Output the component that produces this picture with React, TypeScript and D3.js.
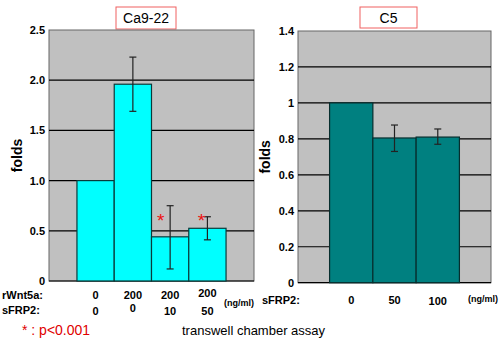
import React from 'react';
import * as d3 from 'd3';

// Ca9-22 panel
const caKeys = ['c1', 'c2', 'c3', 'c4'];
const caWnt5a = ['0', '200', '200', '200'];
const caSfrp2 = ['0', '0', '10', '50'];
const caValues = [1.0, 1.96, 0.44, 0.525];
const caErrLow: (number | null)[] = [null, 1.69, 0.12, 0.41];
const caErrHigh: (number | null)[] = [null, 2.23, 0.75, 0.64];
const caSig = [false, false, true, true];
const caTicks = [0, 0.5, 1.0, 1.5, 2.0, 2.5];
const caTickLabels = ['0', '0.5', '1.0', '1.5', '2.0', '2.5'];

// C5 panel
const c5Keys = ['d1', 'd2', 'd3'];
const c5Sfrp2 = ['0', '50', '100'];
const c5Values = [1.0, 0.805, 0.81];
const c5ErrLow: (number | null)[] = [null, 0.73, 0.77];
const c5ErrHigh: (number | null)[] = [null, 0.877, 0.855];
const c5Ticks = [0, 0.2, 0.4, 0.6, 0.8, 1.0, 1.2, 1.4];
const c5TickLabels = ['0', '0.2', '0.4', '0.6', '0.8', '1', '1.2', '1.4'];

const FONT = 'Liberation Sans, Arial, sans-serif';

interface PanelProps {
  title: string;
  titleBox: [number, number, number, number];
  left: number;
  right: number;
  top: number;
  bottom: number;
  keys: string[];
  values: number[];
  errLow: (number | null)[];
  errHigh: (number | null)[];
  sig?: boolean[];
  ticks: number[];
  tickLabels: string[];
  padOuter: number;
  fill: string;
  stroke: string;
  foldsX: number;
}

const Panel: React.FC<PanelProps> = (p) => {
  const x = d3.scaleBand<string>().domain(p.keys).range([p.left, p.right])
    .paddingInner(0).paddingOuter(p.padOuter);
  const y = d3.scaleLinear().domain([0, p.ticks[p.ticks.length - 1]]).range([p.bottom, p.top]);
  const [bx, by, bw, bh] = p.titleBox;
  // asterisks sit at the same height, just left of the error bars
  const starY = y(0.68) + 6;
  return (
    <g fontFamily={FONT}>
      <rect x={bx} y={by} width={bw} height={bh} fill="#fff" stroke="#f06060" strokeWidth={1} />
      <text x={bx + bw / 2} y={by + bh / 2 + 5} textAnchor="middle" fontSize={14}>{p.title}</text>

      <rect x={p.left} y={p.top} width={p.right - p.left} height={p.bottom - p.top}
        fill="#c0c0c0" stroke="#666" strokeWidth={1} />
      {p.ticks.slice(1, -1).map(t => (
        <line key={t} x1={p.left} x2={p.right} y1={y(t)} y2={y(t)} stroke="#000" strokeWidth={1.2} />
      ))}
      <line x1={p.left} x2={p.right} y1={p.bottom} y2={p.bottom} stroke="#000" strokeWidth={1.2} />

      {p.ticks.map((t, i) => (
        <text key={t} x={p.left - 4} y={y(t) + 4} textAnchor="end" fontSize={11} fontWeight="bold">
          {p.tickLabels[i]}
        </text>
      ))}
      <text transform={`translate(${p.foldsX},${(p.top + p.bottom) / 2}) rotate(-90)`}
        textAnchor="middle" fontSize={14} fontWeight="bold">folds</text>

      {p.keys.map((k, i) => (
        <rect key={k} x={x(k)} y={y(p.values[i])} width={x.bandwidth()}
          height={p.bottom - y(p.values[i])} fill={p.fill} stroke={p.stroke} strokeWidth={1.2} />
      ))}
      {p.keys.map((k, i) => {
        const lo = p.errLow[i];
        const hi = p.errHigh[i];
        if (lo == null || hi == null) return null;
        const cx = x(k)! + x.bandwidth() / 2;
        return (
          <g key={k} stroke="#222" strokeWidth={1.2}>
            <line x1={cx} x2={cx} y1={y(lo)} y2={y(hi)} />
            <line x1={cx - 3.5} x2={cx + 3.5} y1={y(lo)} y2={y(lo)} />
            <line x1={cx - 3.5} x2={cx + 3.5} y1={y(hi)} y2={y(hi)} />
          </g>
        );
      })}
      {p.sig && p.keys.map((k, i) => p.sig![i] ? (
        <text key={k} x={x(k)! + x.bandwidth() / 2 - (i === 2 ? 9.5 : 6)} y={starY + 8}
          textAnchor="middle" fontSize={19} fill="#ee1111">*</text>
      ) : null)}
    </g>
  );
};

export default function App() {
  const xa = d3.scaleBand<string>().domain(caKeys).range([49, 254]).paddingInner(0).paddingOuter(0.75);
  const xc = d3.scaleBand<string>().domain(c5Keys).range([298, 491]).paddingInner(0).paddingOuter(0.73);
  return (
    <svg width={502} height={340} style={{ position: 'absolute', left: 0, top: 0, background: '#fff' }}>
      <Panel title="Ca9-22" titleBox={[116, 7, 60, 22]} left={49} right={254} top={30} bottom={281}
        keys={caKeys} values={caValues} errLow={caErrLow} errHigh={caErrHigh} sig={caSig}
        ticks={caTicks} tickLabels={caTickLabels} padOuter={0.75} fill="#00ffff" stroke="#0a3a3a"
        foldsX={22} />
      <Panel title="C5" titleBox={[360, 7, 57, 21]} left={298} right={491} top={31} bottom={282.7}
        keys={c5Keys} values={c5Values} errLow={c5ErrLow} errHigh={c5ErrHigh}
        ticks={c5Ticks} tickLabels={c5TickLabels} padOuter={0.73} fill="#008080" stroke="#062e2e"
        foldsX={270} />

      <g fontFamily={FONT} fontWeight="bold" fontSize={11}>
        <text x={2} y={299}>rWnt5a:</text>
        <text x={2} y={314}>sFRP2:</text>
        {caKeys.map((k, i) => (
          <text key={k} x={xa(k)! + xa.bandwidth() / 2} y={i === 3 ? 297 : 299} textAnchor="middle">{caWnt5a[i]}</text>
        ))}
        {caKeys.map((k, i) => (
          <text key={k} x={xa(k)! + xa.bandwidth() / 2} y={i === 1 ? 312 : 315} textAnchor="middle">{caSfrp2[i]}</text>
        ))}
        <text x={224} y={306} fontSize={9}>(ng/ml)</text>

        <text x={262} y={304}>sFRP2:</text>
        {c5Keys.map((k, i) => (
          <text key={k} x={xc(k)! + xc.bandwidth() / 2} y={i === 2 ? 305 : 304} textAnchor="middle">{c5Sfrp2[i]}</text>
        ))}
        <text x={468} y={302} fontSize={9}>(ng/ml)</text>
      </g>

      <text x={22} y={335} fontFamily={FONT} fontSize={14} fill="#e00000">* : p&lt;0.001</text>
      <text x={182} y={335} fontFamily={FONT} fontSize={13} fill="#000">transwell chamber assay</text>
    </svg>
  );
}
